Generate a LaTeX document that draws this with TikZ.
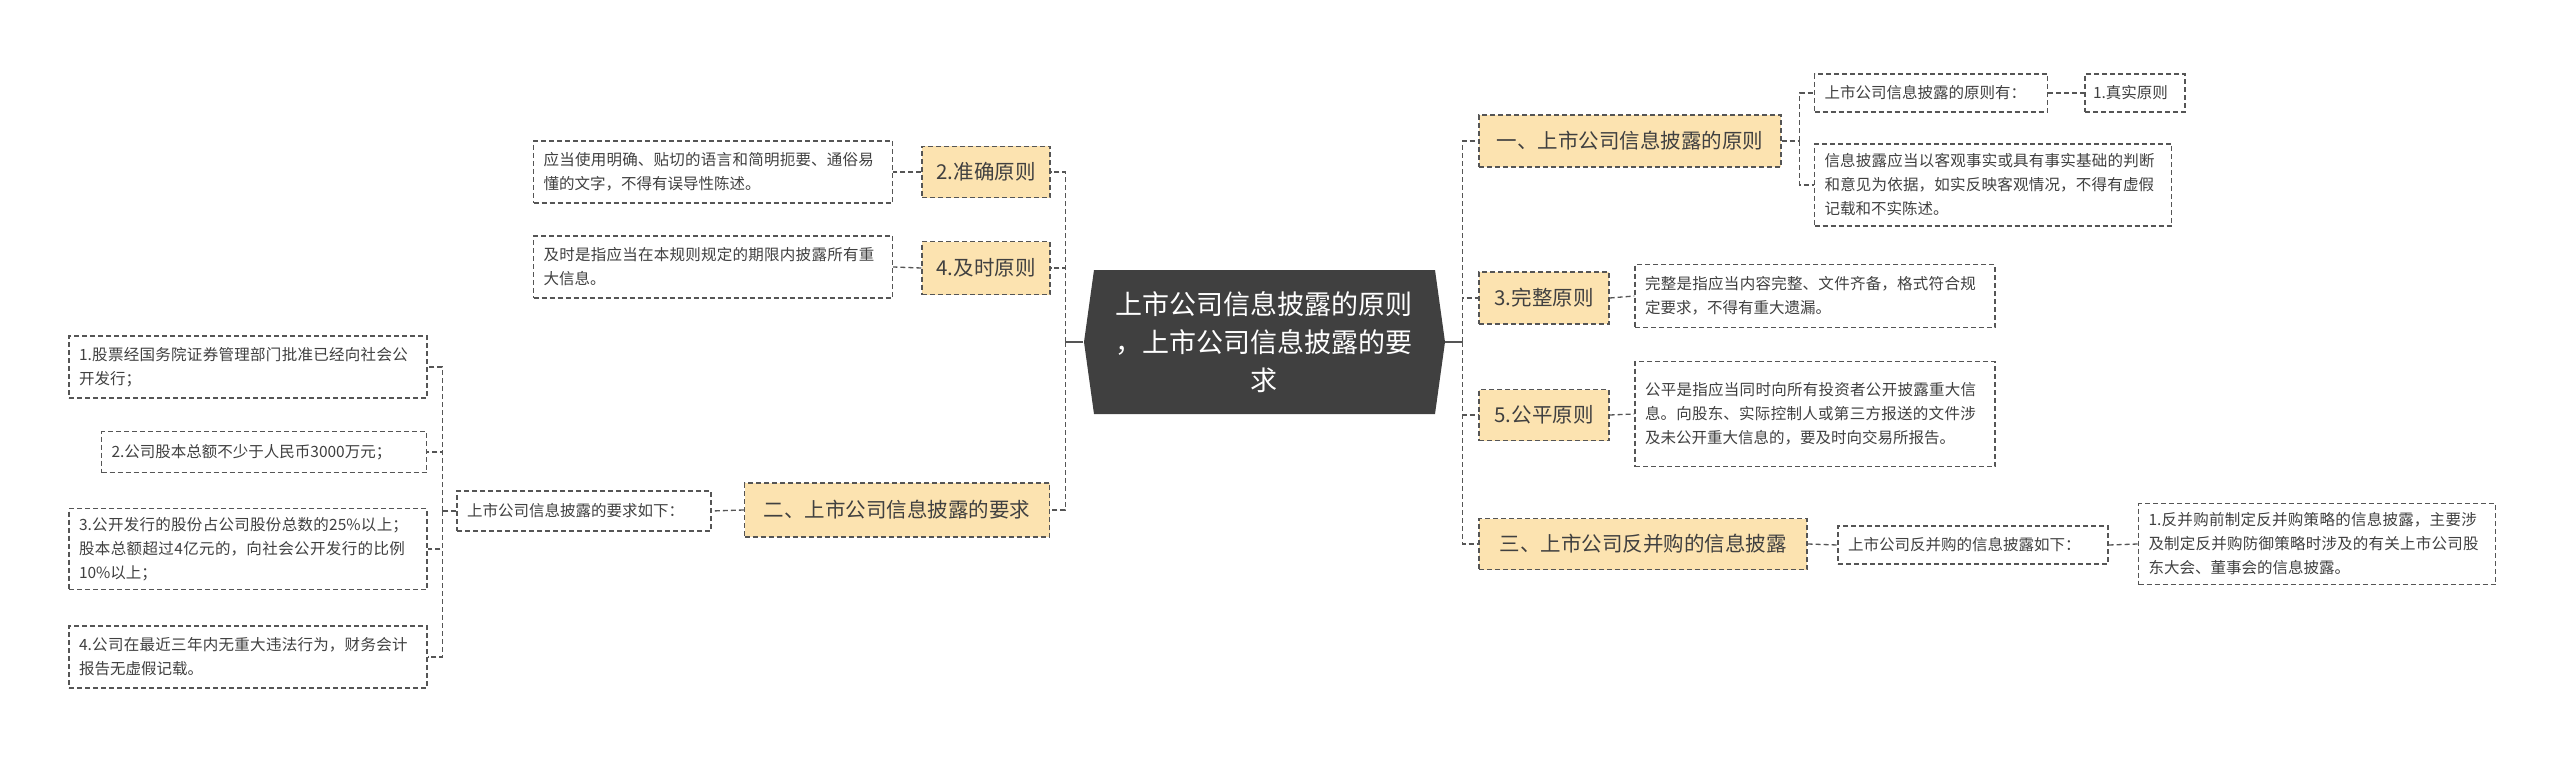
\documentclass[tikz,border=0pt]{standalone}
\usepackage{fontspec}
\setmainfont{Noto Sans CJK SC}
\XeTeXlinebreaklocale "zh"
\XeTeXlinebreakskip=0pt plus 1pt
\definecolor{org}{HTML}{FCE3B0}
\definecolor{dk}{HTML}{404040}
\definecolor{ln}{HTML}{555555}
\begin{document}
\begin{tikzpicture}[x=1pt,y=-1pt,
  leaf/.style={draw=ln,dashed,dash pattern=on 5pt off 3pt,line width=1.3pt,fill=white,inner sep=0pt,align=left,font=\fontsize{15.5}{24}\selectfont,text=dk},
  prin/.style={draw=ln,dashed,dash pattern=on 5pt off 3pt,line width=1.3pt,fill=org,inner sep=0pt,align=center,font=\fontsize{20.5}{26}\selectfont,text=dk},
  con/.style={draw=ln,dashed,dash pattern=on 5pt off 3pt,line width=1.3pt}]
\useasboundingbox[fill=white] (0,0) rectangle (2560,757);
% center
\fill[dk] (1094,270) -- (1435,270) -- (1445,342) -- (1435,414) -- (1094,414) -- (1084,342) -- cycle;
\node[minimum width=361,minimum height=144,inner sep=0pt,align=center,text=white,font=\fontsize{27}{38}\selectfont] (c) at (1264,342) {上市公司信息披露的原则\\，上市公司信息披露的要\\求};
% left
\node[prin,minimum width=128,minimum height=51] (acc) at (986,172) {2.准确原则};
\node[leaf,minimum width=359,minimum height=62,text width=339] (accT) at (713,172) {应当使用明确、贴切的语言和简明扼要、通俗易懂的文字，不得有误导性陈述。};
\node[prin,minimum width=128,minimum height=53] (tim) at (986,268) {4.及时原则};
\node[leaf,minimum width=359,minimum height=62,text width=339] (timT) at (713,267) {及时是指应当在本规则规定的期限内披露所有重大信息。};
\node[prin,minimum width=305,minimum height=54] (req) at (897,510) {二、上市公司信息披露的要求};
\node[leaf,minimum width=254,minimum height=40,text width=234] (reqS) at (584,511) {上市公司信息披露的要求如下：};
\node[leaf,minimum width=358,minimum height=62,text width=338] (L1) at (248,367) {1.股票经国务院证券管理部门批准已经向社会公开发行；};
\node[leaf,minimum width=325,minimum height=41,text width=305] (L2) at (264,452) {2.公司股本总额不少于人民币3000万元；};
\node[leaf,minimum width=358,minimum height=81,text width=338] (L3) at (248,549) {3.公开发行的股份占公司股份总数的25\%以上；股本总额超过4亿元的，向社会公开发行的比例10\%以上；};
\node[leaf,minimum width=358,minimum height=62,text width=338] (L4) at (248,657) {4.公司在最近三年内无重大违法行为，财务会计报告无虚假记载。};
% right
\node[prin,minimum width=302,minimum height=52] (R1) at (1630,141) {一、上市公司信息披露的原则};
\node[leaf,minimum width=233,minimum height=38,text width=213] (R1a) at (1931,93) {上市公司信息披露的原则有：};
\node[leaf,minimum width=100,minimum height=38,text width=84] (R1a1) at (2135,93) {1.真实原则};
\node[leaf,minimum width=357,minimum height=82,text width=337] (R1b) at (1993,185) {信息披露应当以客观事实或具有事实基础的判断和意见为依据，如实反映客观情况，不得有虚假记载和不实陈述。};
\node[prin,minimum width=130,minimum height=52] (R3) at (1544,298) {3.完整原则};
\node[leaf,minimum width=360,minimum height=63,text width=340] (R3T) at (1815,296) {完整是指应当内容完整、文件齐备，格式符合规定要求，不得有重大遗漏。};
\node[prin,minimum width=130,minimum height=51] (R5) at (1544,415) {5.公平原则};
\node[leaf,minimum width=360,minimum height=105,text width=340] (R5T) at (1815,414) {公平是指应当同时向所有投资者公开披露重大信息。向股东、实际控制人或第三方报送的文件涉及未公开重大信息的，要及时向交易所报告。};
\node[prin,minimum width=328,minimum height=51] (R6) at (1643,544) {三、上市公司反并购的信息披露};
\node[leaf,minimum width=270,minimum height=38,text width=250] (R6S) at (1973,545) {上市公司反并购的信息披露如下：};
\node[leaf,minimum width=357,minimum height=81,text width=337] (R6T) at (2317,544) {1.反并购前制定反并购策略的信息披露，主要涉及制定反并购防御策略时涉及的有关上市公司股东大会、董事会的信息披露。};
% connectors
\draw[ln,line width=2pt] (c.west) -- ++(-18,0) coordinate (lt);
\draw[ln,line width=2pt] (c.east) -- ++(18,0) coordinate (rt);
\foreach \n in {acc,tim,req} \draw[con] (lt) |- (\n.east);
\foreach \n in {R1,R3,R5,R6} \draw[con] (rt) |- (\n.west);
\draw[con] (acc.west) -- (accT.east);
\draw[con] (tim.west) -- (timT.east);
\draw[con] (req.west) -- (reqS.east);
\draw[con] (reqS.west) -- ++(-14,0) coordinate (lt2);
\foreach \n in {L1,L2,L3,L4} \draw[con] (lt2) |- (\n.east);
\draw[con] (R1.east) -- ++(18,0) coordinate (rt2);
\foreach \n in {R1a,R1b} \draw[con] (rt2) |- (\n.west);
\draw[con] (R1a.east) -- (R1a1.west);
\draw[con] (R3.east) -- (R3T.west);
\draw[con] (R5.east) -- (R5T.west);
\draw[con] (R6.east) -- (R6S.west);
\draw[con] (R6S.east) -- (R6T.west);
\end{tikzpicture}
\end{document}
